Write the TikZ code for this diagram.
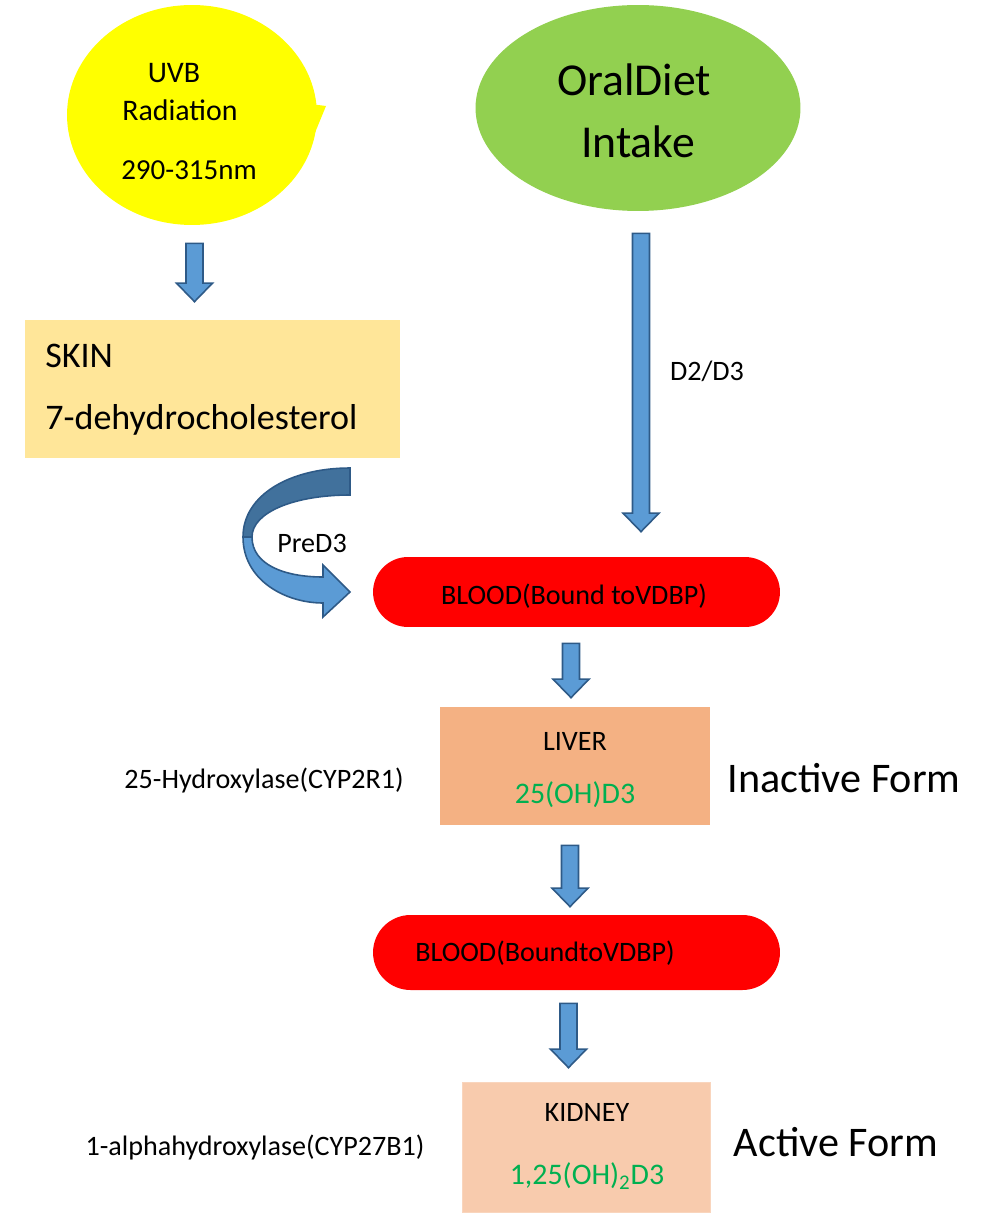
\documentclass[tikz,border=0pt]{standalone}
\usepackage{fontspec}
\setmainfont{Carlito}
\usetikzlibrary{shapes.geometric,shapes.misc,calc}

\definecolor{uvbyellow}{HTML}{FFFF00}
\definecolor{dietgreen}{HTML}{92D050}
\definecolor{skinfill}{HTML}{FFE699}
\definecolor{liverfill}{HTML}{F4B183}
\definecolor{kidneyfill}{HTML}{F8CBAD}
\definecolor{arrowfill}{HTML}{5B9BD5}
\definecolor{arrowdark}{HTML}{41719C}
\definecolor{arrowline}{HTML}{2E5A87}
\definecolor{formgreen}{HTML}{00B050}

\tikzset{
  blockarrow/.style={fill=arrowfill, draw=arrowline, line width=0.9pt, line join=miter},
  blood/.style={rounded rectangle, fill=red, minimum width=8.14cm, inner sep=0pt},
  organ/.style={rectangle, inner sep=0pt},
  lbl/.style={inner sep=0pt, font=\fontsize{16}{19}\selectfont},
  biglbl/.style={inner sep=0pt, font=\fontsize{24}{28}\selectfont},
}

% vertical block arrow: x and top from #1, tip height from #2
\newcommand{\vblockarrow}[2]{%
  \draw[blockarrow] let \p1=(#1), \p2=(#2) in
    (\x1-0.17cm,\y1) -- (\x1+0.17cm,\y1) -- (\x1+0.17cm,\y2+0.37cm)
    -- (\x1+0.36cm,\y2+0.37cm) -- (\x1,\y2) -- (\x1-0.36cm,\y2+0.37cm)
    -- (\x1-0.17cm,\y2+0.37cm) -- cycle;}

\begin{document}
\begin{tikzpicture}[x=0.02cm, y=-0.02cm]
    \useasboundingbox (0,0) rectangle (1000,1226);

    % sources
    \fill[uvbyellow] (310,104) -- (326,106) -- (312,140) -- cycle;
    \node[ellipse, fill=uvbyellow, minimum width=5cm, minimum height=4.4cm] (uvb) at (192,115) {};
    \node[lbl, font=\fontsize{17}{20}\selectfont] (uvbtext) at (174,73) {UVB};
    \node[lbl, font=\fontsize{17}{20}\selectfont] (radtext) at (180,110) {Radiation};
    \node[lbl, font=\fontsize{16.5}{20}\selectfont] (nmtext) at (189,170) {290-315nm};

    \node[ellipse, fill=dietgreen, minimum width=6.5cm, minimum height=4.12cm] (diet) at (638,108) {};
    \node[inner sep=0pt, font=\fontsize{26}{30}\selectfont] (diettext) at (634,80) {OralDiet};
    \node[inner sep=0pt, font=\fontsize{26}{30}\selectfont] (intaketext) at (638,142) {Intake};

    % skin
    \node[organ, fill=skinfill, minimum width=7.5cm, minimum height=2.76cm] (skin) at (212.5,389) {};
    \node[inner sep=0pt, anchor=west, font=\fontsize{20.5}{24}\selectfont] (skintext) at (45,356) {SKIN};
    \node[inner sep=0pt, anchor=west, font=\fontsize{20.5}{24}\selectfont] (dhctext) at (45,420) {7-dehydrocholesterol};

    % blood, liver, kidney
    \node[blood, minimum height=1.4cm] (blood1) at (576.5,592) {};
    \node[lbl] (blood1text) at (574,596) {BLOOD(Bound toVDBP)};

    \node[organ, fill=liverfill, minimum width=5.4cm, minimum height=2.36cm] (liver) at (575,766) {};
    \node[lbl] (livertext) at (575,741) {LIVER};
    \node[lbl, font=\fontsize{17}{20}\selectfont, text=formgreen] (ohtext) at (575,795) {25(OH)D3};
    \node[lbl] (hydroxtext) at (264,780) {25-Hydroxylase(CYP2R1)};
    \node[biglbl] (inactive) at (844,778) {Inactive Form};

    \node[blood, minimum height=1.5cm] (blood2) at (576.5,952.5) {};
    \node[lbl] (blood2text) at (545,953) {BLOOD(BoundtoVDBP)};

    \node[organ, fill=kidneyfill, draw=kidneyfill!80!white, minimum width=4.96cm, minimum height=2.6cm] (kidney) at (586,1147) {};
    \node[lbl] (kidneytext) at (587,1112) {KIDNEY};
    \node[lbl, font=\fontsize{17}{20}\selectfont, text=formgreen] (activetext) at (587,1176) {1,25(OH)\textsubscript{2}D3};
    \node[lbl] (alphatext) at (255,1147) {1-alphahydroxylase(CYP27B1)};
    \node[biglbl] (active) at (836,1142) {Active Form};

    % block arrows
    \vblockarrow{[xshift=0.05cm,yshift=-0.36cm]uvb.south}{[yshift=0.36cm]skin.north}
    \vblockarrow{[xshift=0.06cm,yshift=-0.44cm]diet.south}{[yshift=0.5cm]blood1.north}
    \vblockarrow{[xshift=-0.11cm,yshift=-0.32cm]blood1.south}{[yshift=0.18cm]liver.north}
    \vblockarrow{[xshift=-0.1cm,yshift=-0.4cm]liver.south}{[yshift=0.16cm]blood2.north}
    \vblockarrow{[xshift=-0.16cm,yshift=-0.26cm]blood2.south}{[yshift=0.28cm]kidney.north}
    \node[lbl] (dtext) at (707,371) {D2/D3};

    % curved arrow from skin to blood
    \draw[blockarrow, fill=arrowdark] (350,468) -- (350,495) .. controls (295,495) and (252,512) .. (252,537)
        -- (243,537) .. controls (243,495) and (290,468) .. (350,468) -- cycle;
    \draw[blockarrow] (243,537) .. controls (243,580) and (285,603) .. (323,603) -- (323,617) -- (350,592)
        -- (323,565) -- (323,577) .. controls (285,577) and (252,565) .. (252,537) -- cycle;
    \node[lbl] (predtext) at (312,543) {PreD3};
\end{tikzpicture}
\end{document}
